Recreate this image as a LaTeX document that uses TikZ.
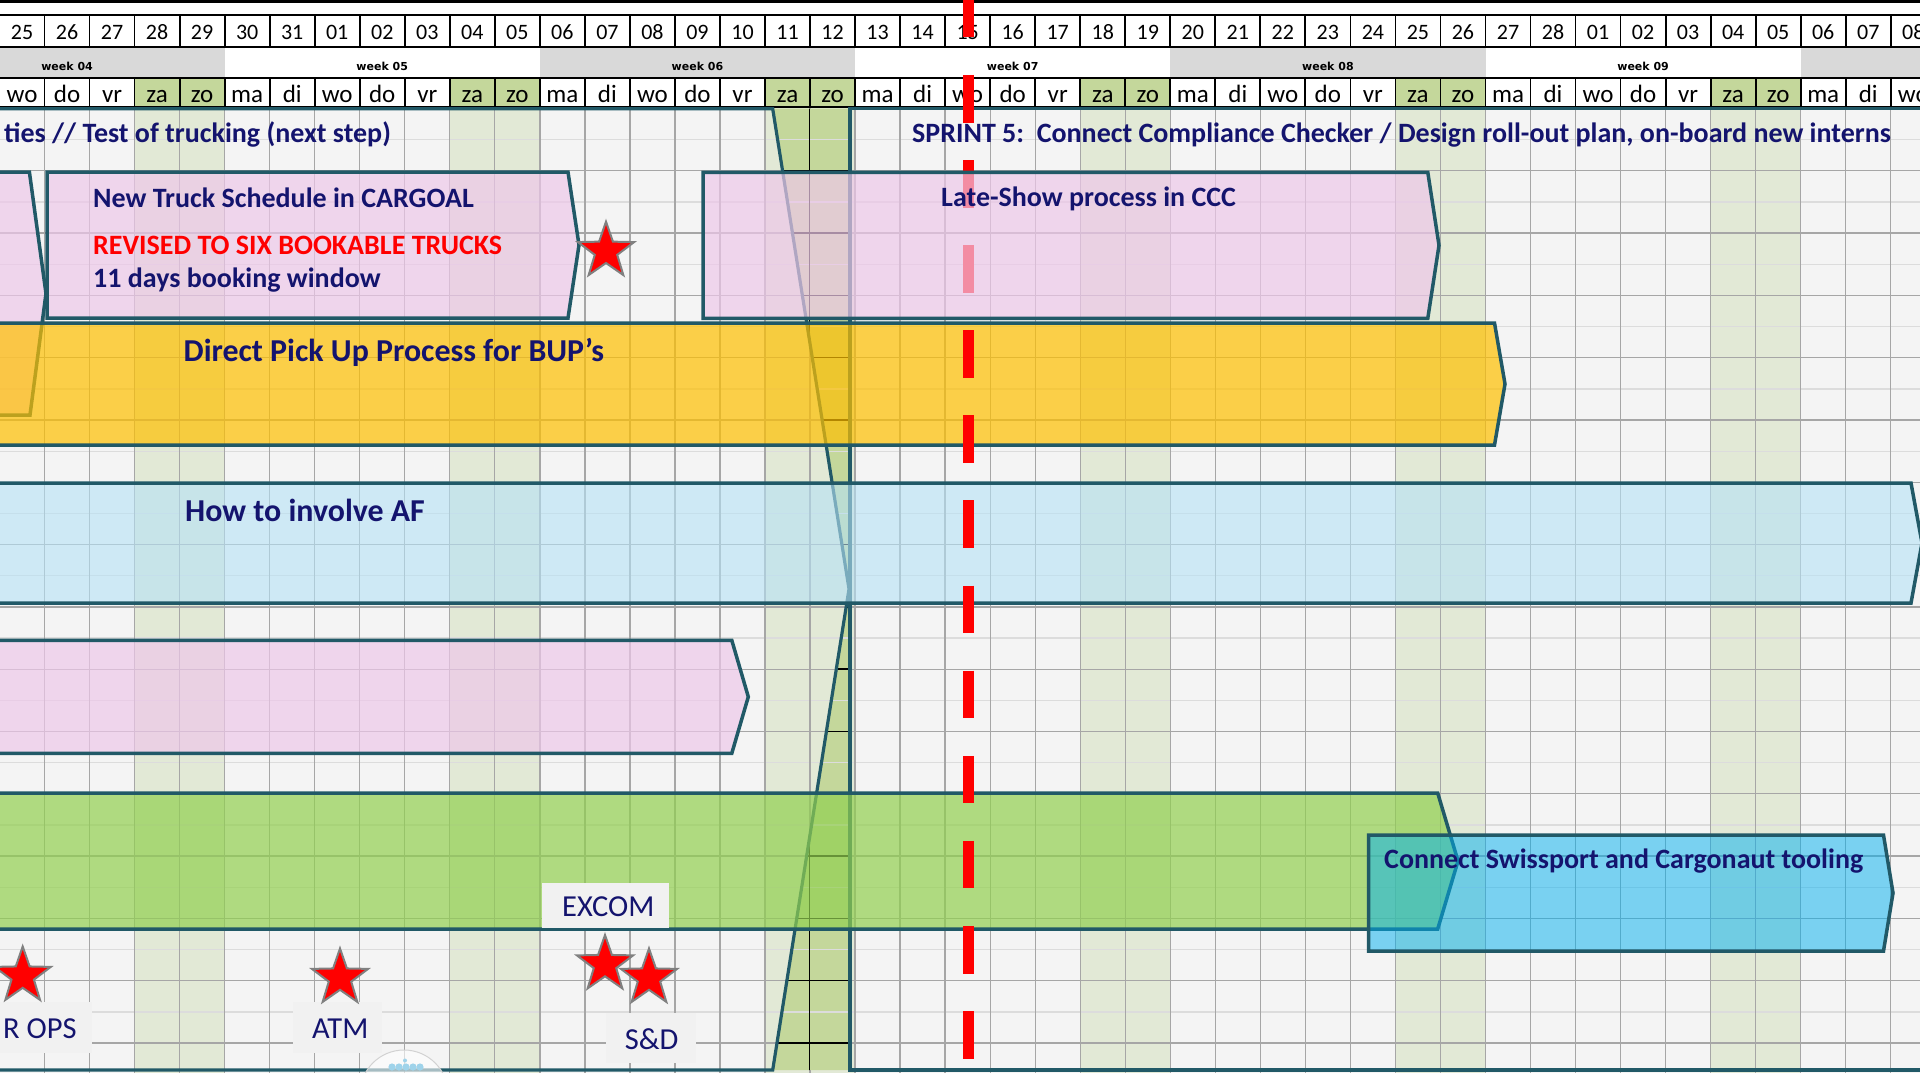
\documentclass[tikz,border=0pt]{standalone}
\usepackage{fontspec}
\setmainfont{Carlito}
\newfontfamily\weekfont{DejaVu Sans}
\usetikzlibrary{shapes.geometric}

\definecolor{framecol}{HTML}{215967}
\definecolor{inkblue}{HTML}{14146E}
\definecolor{bodybg}{HTML}{F4F4F4}
\definecolor{wkndbody}{HTML}{E2E9D6}
\definecolor{wkndhead}{HTML}{C4D79B}
\definecolor{weekgray}{HTML}{D9D9D9}
\definecolor{gridd}{HTML}{A6A6A6}
\definecolor{gridl}{HTML}{DCDCDC}
\definecolor{pinkf}{HTML}{EEC8E9}
\definecolor{yellowf}{HTML}{FFC000}
\definecolor{bluef}{HTML}{B6E2F6}
\definecolor{greenf}{HTML}{92D050}
\definecolor{cyanf}{HTML}{00B0F0}
\definecolor{labelbg}{HTML}{F1F1F1}
\definecolor{starline}{HTML}{808080}
\definecolor{logodot}{HTML}{9FD3EA}

\tikzset{
  headnum/.style={font=\fontsize{22pt}{26pt}\selectfont, anchor=base, inner sep=0pt},
  headday/.style={font=\fontsize{25pt}{30pt}\selectfont, anchor=base, inner sep=0pt},
  headweek/.style={font=\weekfont\bfseries\fontsize{11pt}{13pt}\selectfont, anchor=base, inner sep=0pt},
  bartext/.style={font=\bfseries\fontsize{28pt}{34pt}\selectfont, text=inkblue, anchor=base west, inner sep=0pt},
  bigtext/.style={bartext, font=\bfseries\fontsize{31.9pt}{38pt}\selectfont},
  marktext/.style={font=\fontsize{30.5pt}{36pt}\selectfont, text=inkblue, anchor=base west, inner sep=0pt},
  sprintframe/.style={draw=framecol, line width=3.2pt, line join=miter},
  taskbar/.style={draw=framecol, line width=3.5pt, line join=miter, fill opacity=0.7},
  redstar/.style={star, star points=5, star point ratio=2.5, minimum size=59pt,
    inner sep=0pt, fill=red, draw=starline, line width=2pt},
}

\begin{document}
\begin{tikzpicture}[x=1pt,y=-1pt]
\useasboundingbox (0,0) rectangle (1920,1073);
\clip (0,0) rectangle (1920,1073);

% ---------- calendar body ----------
\fill[bodybg] (0,108) rectangle (1920,1073);
\foreach \i in {3,4,10,11,17,18,24,25,31,32,38,39}
  \fill[wkndbody] ({-0.5+45.03*\i},108) rectangle ({-0.5+45.03*(\i+1)},1073);
\foreach \j in {1,3,...,31}
  \draw[gridl, line width=1.3pt] (0,{108.5+31.15*\j}) -- (1920,{108.5+31.15*\j});
\foreach \j in {2,4,...,30}
  \draw[gridd, line width=1.3pt] (0,{108.5+31.15*\j}) -- (1920,{108.5+31.15*\j});
\foreach \i in {1,...,42}
  \draw[gridd, line width=1.3pt] ({-0.5+45.03*\i},108) -- ({-0.5+45.03*\i},1073);

% weekend cells left open between the two sprint frames
\begin{scope}
  \clip (772.7,108.5) -- (849,589) -- (772.7,1070) -- (851,1070) -- (851,108.5) -- cycle;
  \fill[wkndhead] (760,108) rectangle (856,1073);
  \foreach \j in {1,3,...,31}
    \draw[gridl, line width=1.3pt] (760,{108.5+31.15*\j}) -- (856,{108.5+31.15*\j});
  \foreach \j in {2,4,...,30}
    \draw[black, line width=1.5pt] (760,{108.5+31.15*\j}) -- (856,{108.5+31.15*\j});
  \draw[black, line width=1.5pt] (809.5,108) -- (809.5,1073);
\end{scope}

% ---------- header ----------
\fill[white] (0,0) rectangle (1920,108);
\foreach \s in {-2,12,26,40}
  \fill[weekgray] ({-0.5+45.03*\s},46.7) rectangle ({-0.5+45.03*(\s+7)},78.3);
\foreach \i in {3,4,10,11,17,18,24,25,31,32,38,39}
  \fill[wkndhead] ({-0.5+45.03*\i},78.3) rectangle ({-0.5+45.03*(\i+1)},107);
\draw[black, line width=2.6pt] (0,1.3) -- (1920,1.3);
\foreach \y in {15,46.7,78.3,107}
  \draw[black, line width=2pt] (0,\y) -- (1920,\y);
\foreach \i in {1,...,42}{
  \draw[black, line width=1.8pt] ({-0.5+45.03*\i},15) -- ({-0.5+45.03*\i},46.7);
  \draw[black, line width=1.8pt] ({-0.5+45.03*\i},78.3) -- ({-0.5+45.03*\i},107);
}
\foreach \d [count=\c from 0] in {25,26,27,28,29,30,31,01,02,03,04,05,06,07,08,09,10,11,12,13,14,15,16,17,18,19,20,21,22,23,24,25,26,27,28,01,02,03,04,05,06,07,08}
  \node[headnum] (n\c) at ({-0.5+45.03*(\c+0.5)},39.3) {\d};
\foreach \wk in {0,...,6}
  \foreach \dn [count=\k from 0] in {wo,do,vr,za,zo,ma,di}{
    \pgfmathtruncatemacro\c{7*\wk+\k}
    \ifnum\c<43
      \node[headday] (d\c) at ({-0.5+45.03*(\c+0.5)},102.7) {\dn};
    \fi
  }
\foreach \w/\s in {04/-2,05/5,06/12,07/19,08/26,09/33}
  \node[headweek] (w\w) at ({-0.5+45.03*(\s+3.5)},70.7) {week \w};

% ---------- sprint frames ----------
\draw[sprintframe] (-5,108.7) -- (772.7,108.7) -- (849,589) -- (772.7,1070) -- (-5,1070);
\draw[sprintframe] (1925,108.7) -- (850,108.7) -- (850,1070) -- (1925,1070);
\node[bartext] (sprintfour) at (4,142) {ties // Test of trucking (next step)};
\node[bartext] (sprintfive) at (912,142) {SPRINT 5:\ \ Connect Compliance Checker / Design roll-out plan, on-board new interns};

% ---------- task bars ----------
\path[taskbar, fill=pinkf] (-10,172) -- (29.4,172) -- (46,293.5) -- (30,415) -- (-10,415) -- cycle;
\path[taskbar, fill=pinkf] (47,172) -- (568,172) -- (579,245) -- (568,318) -- (47,318) -- cycle;
\path[taskbar, fill=yellowf] (-10,323) -- (1494.5,323) -- (1505,384) -- (1494.5,445) -- (-10,445) -- cycle;
\path[taskbar, fill=bluef, fill opacity=0.6] (-10,483) -- (1911,483) -- (1922,543) -- (1911,603) -- (-10,603) -- cycle;
\path[taskbar, fill=pinkf] (-10,640.3) -- (731.8,640.3) -- (748.3,696.8) -- (731.8,753.3) -- (-10,753.3) -- cycle;
\path[taskbar, fill=greenf] (-10,793) -- (1437.7,793) -- (1458,861) -- (1437.7,929) -- (-10,929) -- cycle;
\path[taskbar, fill=cyanf, fill opacity=0.5] (1368.5,835) -- (1883.5,835) -- (1893,893) -- (1883.5,951) -- (1368.5,951) -- cycle;

\node[bartext] (truck) at (93,207) {New Truck Schedule in CARGOAL};
\node[bartext, text=red] (revised) at (93,254) {REVISED TO SIX BOOKABLE TRUCKS};
\node[bartext] (window) at (93,287.5) {11 days booking window};
\node[bigtext] (pickup) at (183.5,361.5) {Direct Pick Up Process for BUP’s};
\node[bigtext] (involve) at (185,521) {How to involve AF};
\node[bartext] (tooling) at (1384,868) {Connect Swissport and Cargonaut tooling};

% ---------- today marker ----------
\draw[red, line width=11pt, dash pattern=on 47.6pt off 37.5pt] (968.3,-10.15) -- (968.3,1073);

% bar added on top of the marker
\path[taskbar, fill=pinkf] (703,172.3) -- (1427.8,172.3) -- (1439,245.3) -- (1427.8,318.3) -- (703,318.3) -- cycle;
\node[bartext] (lateshow) at (941,206) {Late-Show process in CCC};

% ---------- milestones ----------
\node[redstar] (st0) at (606,251.2) {};
\fill[labelbg] (542,883.3) rectangle (668.7,928.3);
\node[marktext] (excom) at (562,916.7) {EXCOM};
\fill[labelbg] (-2,1001.7) rectangle (91.9,1053.3);
\node[marktext] (rops) at (3,1038.3) {R OPS};
\fill[labelbg] (292.7,1001.7) rectangle (381.5,1052.7);
\node[marktext] (atm) at (312,1038.3) {ATM};
\fill[labelbg] (606,1013.3) rectangle (696,1063.3);
\node[marktext] (snd) at (624.6,1049.3) {S\&D};
\node[redstar] (st1) at (22.7,976) {};
\node[redstar] (st2) at (340,978) {};
\node[redstar] (st3) at (605,964.5) {};
\node[redstar] (st4) at (649,978) {};

% partly hidden logo at the bottom edge
\filldraw[fill=white, fill opacity=0.6, draw=gray!35, line width=1pt] (404,1094) circle (44);
\foreach \x in {392,399,406,413,420}
  \fill[logodot] (\x,1067) circle (3.6);
\fill[logodot] (405,1060.5) circle (2);
\end{tikzpicture}
\end{document}
